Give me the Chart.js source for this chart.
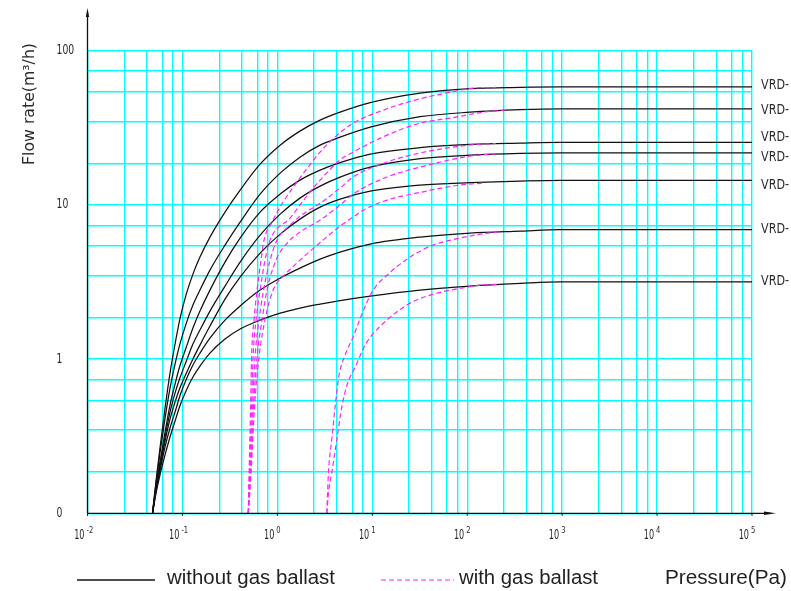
<!DOCTYPE html>
<html><head><meta charset="utf-8">
<script src="https://cdn.jsdelivr.net/npm/chart.js@4.4.1/dist/chart.umd.min.js"></script>
<style>html,body{margin:0;padding:0;background:#fff;}#wrap{width:791px;height:591px;position:relative;}</style>
</head><body><div id="wrap"><canvas id="c" width="791" height="591"></canvas></div>
<script>
// ---- data (pressure Pa, flow m3/h) ----
const seriesLabels = ['VRD-','VRD-','VRD-','VRD-','VRD-','VRD-','VRD-'];
const xTickExponents = [-2,-1,0,1,2,3,4,5];
const yTickValues = [0.1, 1, 10, 100];
const yTickLabels = ['0', '1', '10', '100'];
const xGridMultiples = [1, 2.44, 4.22, 6.15, 7.91];
const yGridMultiples = [1, 1.85, 3.46, 5.38, 7.35];
const legendLabels = ['without gas ballast', 'with gas ballast'];
const xAxisTitle = 'Pressure(Pa)';
const yAxisTitle = 'Flow rate(m\u00b3/h)';

// without gas ballast: shared pressure points, one flow list per pump
const pressure = [0.0484,0.0527,0.058,0.0656,0.074,0.0836,0.094,0.109,0.129,0.153,0.195,0.281,0.405,0.658,1.07,1.73,2.82,4.58,9.5,31.9,107,361,953,1e5];
const c1 = [0.1,0.162,0.265,0.481,0.810,1.249,1.813,2.594,3.547,4.571,6.160,8.944,12.42,18.30,24.29,29.94,35.27,39.72,45.77,52.76,56.39,57.50,57.92,57.92];
const c2 = [0.1,0.157,0.246,0.414,0.648,0.927,1.249,1.683,2.234,2.794,3.765,5.467,7.701,11.70,16.00,20.31,24.29,27.36,31.77,37.15,39.72,41.23,41.73,41.73];
const c3 = [0.1,0.148,0.215,0.336,0.503,0.688,0.900,1.177,1.585,2.043,2.794,4.243,6.069,8.944,11.70,14.41,16.73,18.71,21.24,23.40,24.54,25.02,25.29,25.29];
const c4 = [0.1,0.146,0.206,0.312,0.453,0.601,0.752,0.955,1.249,1.539,2.043,2.966,4.243,6.346,8.682,11.02,13.18,15.07,17.50,19.86,20.93,21.49,21.65,21.65];
const c5 = [0.1,0.142,0.197,0.294,0.408,0.526,0.648,0.799,0.999,1.230,1.634,2.443,3.392,4.851,6.441,8.057,9.634,10.85,12.23,13.38,13.88,14.20,14.35,14.35];
const c6 = [0.1,0.139,0.188,0.269,0.357,0.453,0.575,0.730,0.913,1.092,1.366,1.786,2.201,2.794,3.342,3.879,4.437,4.926,5.549,6.160,6.538,6.736,6.888,6.888];
const c7 = [0.1,0.135,0.177,0.239,0.312,0.396,0.496,0.620,0.764,0.900,1.092,1.345,1.562,1.786,1.983,2.137,2.268,2.389,2.555,2.794,2.966,3.088,3.162,3.162];
// with gas ballast: [pressure, flow]
const g1 = [[0.494,0.1],[0.504,0.182],[0.522,0.488],[0.535,1.03],[0.568,1.79],[0.611,2.79],[0.673,4.37],[0.724,5.89],[0.879,7.71],[1.186,10.7],[1.734,14.9],[2.82,21.9],[4.26,28.2],[6.28,33.7],[14.3,41.8],[31.9,48.5],[71,54.0],[107,56.6],[200,57.5]];
const g2 = [[0.494,0.1],[0.509,0.182],[0.535,0.488],[0.555,1.03],[0.597,1.79],[0.658,2.79],[0.741,4.37],[0.838,5.89],[1.361,8.18],[1.96,11.0],[2.82,14.4],[4.58,19.5],[6.28,21.9],[14.3,28.2],[31.9,33.7],[71,36.6],[137,39.5],[250,41.0]];
const g3 = [[0.494,0.1],[0.515,0.182],[0.548,0.488],[0.582,1.03],[0.641,1.79],[0.716,2.79],[0.838,4.37],[0.993,5.89],[1.361,7.36],[1.734,8.43],[2.82,10.2],[4.58,12.8],[6.28,15.1],[14.3,18.9],[31.9,21.6],[71,23.6],[121,24.5],[200,24.9]];
const g4 = [[0.494,0.1],[0.522,0.182],[0.561,0.488],[0.611,1.03],[0.69,1.79],[0.778,2.79],[0.968,4.37],[1.265,5.63],[1.734,6.64],[2.82,7.94],[4.58,9.93],[6.28,11.7],[14.3,15.1],[31.9,17.5],[71,19.7],[127,20.9],[200,21.3]];
const g5 = [[0.494,0.1],[0.528,0.182],[0.575,0.488],[0.641,1.03],[0.741,1.79],[0.902,2.79],[1.186,3.49],[1.734,4.37],[3.03,5.89],[4.58,7.26],[6.28,8.3],[8.0,9.2],[14.3,10.7],[31.9,12.0],[84,13.4],[150,13.8]];
const g6 = [[3.32,0.1],[3.45,0.182],[3.74,0.299],[4.06,0.488],[4.47,0.787],[5.17,1.06],[6.28,1.39],[8.0,2.04],[10.2,2.79],[14.3,3.49],[25,4.57],[43.7,5.47],[84,6.07],[137,6.44],[222,6.64]];
const g7 = [[3.32,0.1],[3.45,0.135],[3.74,0.182],[4.23,0.299],[4.77,0.488],[5.42,0.678],[6.75,0.912],[8.4,1.23],[9.95,1.43],[14.3,1.79],[25,2.3],[48.2,2.67],[99.8,2.92],[137,3.01],[222,3.05]];

const noBallast = [c1,c2,c3,c4,c5,c6,c7];
const withBallast = [g1,g2,g3,g4,g5,g6,g7];

// ---- build ----
const datasets = [];
withBallast.forEach(s => datasets.push({data: s.map(p => ({x: p[0], y: p[1]})), borderColor: '#ff22ff', borderWidth: 1.2, borderDash: [5,3], pointRadius: 0, cubicInterpolationMode: 'monotone', fill: false}));
noBallast.forEach(s => datasets.push({data: s.map((q, i) => ({x: pressure[i], y: q})), borderColor: '#111', borderWidth: 1.25, pointRadius: 0, cubicInterpolationMode: 'monotone', fill: false}));

const xGridValues = [];
for (let e = -2; e <= 4; e++) xGridMultiples.forEach(m => xGridValues.push(m * Math.pow(10, e)));
xGridValues.push(1e5);
const yGridValues = [];
for (let e = -1; e <= 1; e++) yGridMultiples.forEach(m => yGridValues.push(m * Math.pow(10, e)));
yGridValues.push(100);

const GRID = '#00ffff';
const TEXT = '#2a2a2a';

function drawText(ctx, txt, x, y, font, opt) {
  ctx.save();
  ctx.font = font;
  const w0 = ctx.measureText(txt).width;
  const s = opt.width ? opt.width / w0 : (opt.sx || 1);
  const w = w0 * s;
  ctx.textBaseline = opt.baseline || 'alphabetic';
  ctx.textAlign = 'left';
  let x0 = x;
  if (opt.align === 'right') x0 = x - w;
  if (opt.align === 'center') x0 = x - w / 2;
  ctx.translate(x0, y);
  ctx.scale(s, 1);
  ctx.fillText(txt, 0, 0);
  ctx.restore();
}

const decor = {
  id: 'decor',
  afterDraw(chart) {
    const ctx = chart.ctx, xs = chart.scales.x, ys = chart.scales.y;
    const x0 = xs.getPixelForValue(0.01), y0 = ys.getPixelForValue(0.1);
    ctx.save();
    ctx.strokeStyle = '#111'; ctx.fillStyle = '#111'; ctx.lineWidth = 1.3;
    ctx.beginPath(); ctx.moveTo(x0, y0); ctx.lineTo(x0, 12); ctx.stroke();
    ctx.beginPath(); ctx.moveTo(x0, 8); ctx.lineTo(x0 - 1.6, 17); ctx.lineTo(x0 + 1.6, 17); ctx.closePath(); ctx.fill();
    ctx.beginPath(); ctx.moveTo(x0, y0); ctx.lineTo(770, y0); ctx.stroke();
    ctx.beginPath(); ctx.moveTo(776, y0); ctx.lineTo(764, y0 - 1.8); ctx.lineTo(764, y0 + 1.8); ctx.closePath(); ctx.fill();
    ctx.lineWidth = 1;
    xTickExponents.forEach(e => {
      const px = xs.getPixelForValue(Math.pow(10, e));
      ctx.beginPath(); ctx.moveTo(px, y0); ctx.lineTo(px, y0 + 2.5); ctx.stroke();
    });
    ctx.fillStyle = TEXT;
    yTickValues.forEach((v, i) => {
      drawText(ctx, yTickLabels[i], 56.5, ys.getPixelForValue(v), '14px "DejaVu Sans"', {sx: 0.66, baseline: 'middle'});
    });
    xTickExponents.forEach(e => {
      const px = xs.getPixelForValue(Math.pow(10, e));
      drawText(ctx, '10', px - 3, 539, '14px "DejaVu Sans"', {sx: 0.58, align: 'right'});
      drawText(ctx, String(e), px - 1, 526.5, '9px "DejaVu Sans"', {sx: 0.75, baseline: 'top'});
    });
    ctx.save();
    ctx.translate(33.5, 104);
    ctx.rotate(-Math.PI / 2);
    drawText(ctx, yAxisTitle, 0, 0, '16px "DejaVu Sans"', {width: 122, align: 'center'});
    ctx.restore();
    const nudge = [-2, 1.5, -5, 4.5, 4.5, 0, -1];
    noBallast.forEach((s, i) => {
      const py = ys.getPixelForValue(s[s.length - 1]) + nudge[i];
      drawText(ctx, seriesLabels[i], 761, py, '14.5px "DejaVu Sans"', {width: 28, baseline: 'middle'});
    });
    ctx.strokeStyle = '#111'; ctx.lineWidth = 1.4; ctx.setLineDash([]);
    ctx.beginPath(); ctx.moveTo(77, 580); ctx.lineTo(155, 580); ctx.stroke();
    ctx.strokeStyle = '#ff22ff'; ctx.lineWidth = 1.2; ctx.setLineDash([5, 3]);
    ctx.beginPath(); ctx.moveTo(381, 580); ctx.lineTo(454, 580); ctx.stroke();
    ctx.setLineDash([]);
    ctx.fillStyle = '#231f20';
    const lf = '19.5px "Liberation Sans", Arial, sans-serif';
    drawText(ctx, legendLabels[0], 167, 584, lf, {width: 168});
    drawText(ctx, legendLabels[1], 459, 584, lf, {width: 139});
    drawText(ctx, xAxisTitle, 665, 584, lf, {width: 122});
    ctx.restore();
  }
};

new Chart(document.getElementById('c'), {
  type: 'line',
  data: { datasets },
  options: {
    responsive: false, animation: false, devicePixelRatio: 1,
    layout: { padding: { left: 87.5, right: 39, top: 50.3, bottom: 77.7 } },
    plugins: { legend: { display: false }, tooltip: { enabled: false } },
    scales: {
      x: { type: 'logarithmic', min: 0.01, max: 1e5,
        afterBuildTicks: sc => { sc.ticks = xGridValues.map(v => ({ value: v })); },
        ticks: { display: false }, border: { display: false },
        grid: { color: GRID, lineWidth: 1.4, drawTicks: false } },
      y: { type: 'logarithmic', min: 0.1, max: 100,
        afterBuildTicks: sc => { sc.ticks = yGridValues.map(v => ({ value: v })); },
        ticks: { display: false }, border: { display: false },
        grid: { color: GRID, lineWidth: 1.4, drawTicks: false } }
    }
  },
  plugins: [decor]
});
</script></body></html>
